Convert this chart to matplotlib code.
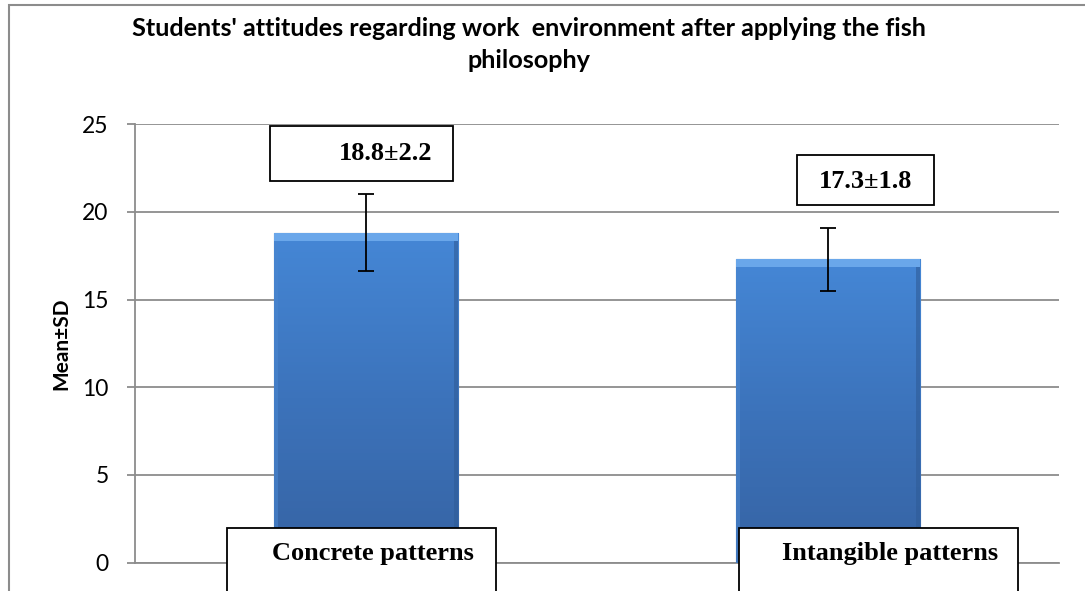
import numpy as np
import matplotlib
matplotlib.use("Agg")
import matplotlib.pyplot as plt
from matplotlib.patches import Rectangle
from matplotlib.colors import LinearSegmentedColormap

# data
categories = ["Concrete patterns", "Intangible patterns"]
means = [18.8, 17.3]
sds = [2.2, 1.8]
value_labels = ["18.8±2.2", "17.3±1.8"]

fig = plt.figure(figsize=(10.85, 5.91), dpi=100)
ax = fig.add_axes([0.1244, 0.0479, 0.8516, 0.7422])

x = np.arange(len(categories))
bar_w = 0.4
bars = ax.bar(x, means, width=bar_w, color="#4180cf", edgecolor="#2f5d9a",
              linewidth=0.8, zorder=3)

# vertical gradient on the bars
cmap = LinearSegmentedColormap.from_list("blu", ["#3663a3", "#3c73bb", "#4587d6"])
grad = np.linspace(0, 1, 256).reshape(-1, 1)
for b in bars:
    x0, w, h = b.get_x(), b.get_width(), b.get_height()
    im = ax.imshow(grad, extent=[x0, x0 + w, 0, h], origin="lower", cmap=cmap,
                   aspect="auto", zorder=3.5)
    im.set_clip_path(b)
    # bevel highlight at top and soft shaded sides
    ax.add_patch(Rectangle((x0, h - 0.45), w, 0.45, facecolor="#6aa7ea",
                           edgecolor="none", zorder=3.6))
    ax.add_patch(Rectangle((x0, 0), 0.01, h - 0.45, facecolor="#4a86cf",
                           edgecolor="none", alpha=0.6, zorder=3.6))
    ax.add_patch(Rectangle((x0 + w - 0.01, 0), 0.01, h - 0.45,
                           facecolor="#2f5c98", edgecolor="none", alpha=0.6,
                           zorder=3.6))

ax.errorbar(x, means, yerr=sds, fmt="none", ecolor="black", elinewidth=1.3,
            capsize=6, capthick=1.3, zorder=4)

ax.set_xlim(-0.5, 1.5)
ax.set_ylim(0, 25)
ax.set_yticks([0, 5, 10, 15, 20, 25])
ax.set_xticks([])
ax.grid(axis="y", color="#8c8c8c", linewidth=1.3, zorder=0)
ax.set_axisbelow(True)
for s in ["top", "right"]:
    ax.spines[s].set_visible(False)
for s in ["left", "bottom"]:
    ax.spines[s].set_color("#8c8c8c")
    ax.spines[s].set_linewidth(1.3)
ax.tick_params(axis="y", length=6, width=1.3, color="#8c8c8c", pad=13,
               labelsize=16.5)
for t in ax.get_yticklabels():
    t.set_fontfamily("Lato")

ax.set_ylabel("Mean±SD", fontsize=15, fontweight="bold", family="Lato",
              labelpad=8)

# value boxes above bars
vbox = [(-0.208, 21.76, 0.396, 3.14, 0.043, 23.35),
        (0.933, 20.39, 0.296, 2.85, 1.082, 21.72)]
for (bx, by, bw, bh, tx, ty), lab in zip(vbox, value_labels):
    ax.add_patch(Rectangle((bx, by), bw, bh, facecolor="white",
                           edgecolor="black", linewidth=1.3, zorder=5,
                           clip_on=False))
    ax.text(tx, ty, lab, ha="center", va="center", fontsize=19,
            fontweight="bold", family="Liberation Serif", zorder=6)

# category label boxes
cbox = [(-0.301, 0.582, 0.016), (0.807, 0.604, 1.134)]
for (bx, bw, tx), lab in zip(cbox, categories):
    ax.add_patch(Rectangle((bx, -5), bw, 7.0, facecolor="white",
                           edgecolor="black", linewidth=1.3, zorder=5,
                           clip_on=False))
    ax.text(tx, 0.5, lab, ha="center", va="center", fontsize=19,
            fontweight="bold", family="Liberation Serif", zorder=6,
            clip_on=False)

# title
fig.text(0.4876, 0.952, "Students' attitudes regarding work  environment after applying the fish",
         ha="center", va="center", fontsize=18.2, fontweight="bold", family="Lato")
fig.text(0.4876, 0.898, "philosophy", ha="center", va="center", fontsize=18.2,
         fontweight="bold", family="Lato")

# outer chart border (partly cropped)
fig.add_artist(Rectangle((9 / 1085, -0.1), 1.2, 1 - 5 / 591 + 0.1,
                         transform=fig.transFigure, facecolor="none",
                         edgecolor="#8c8c8c", linewidth=1.5))

fig.savefig("out.png", dpi=100)
